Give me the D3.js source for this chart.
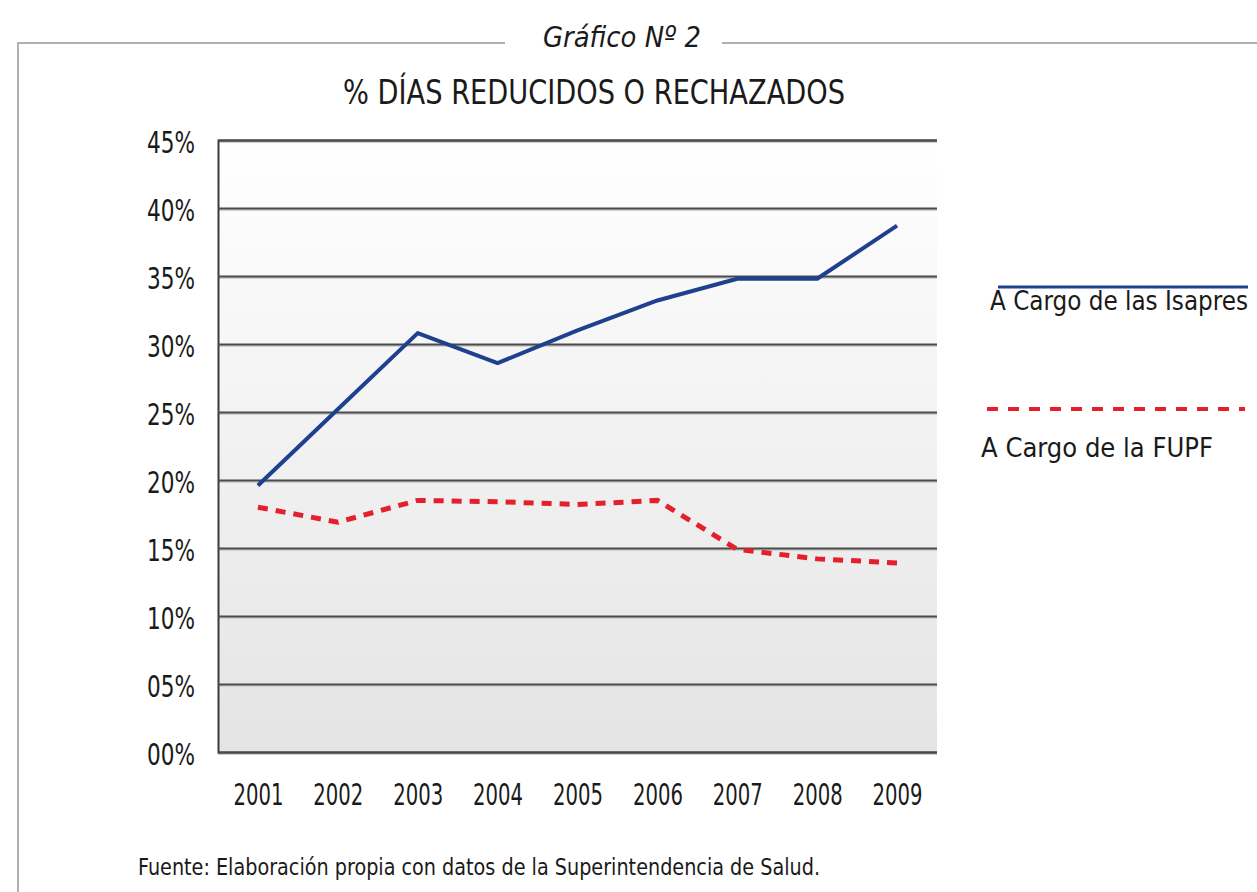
<!DOCTYPE html>
<html>
<head>
<meta charset="utf-8">
<script src="https://cdn.jsdelivr.net/npm/d3@7"></script>
<style>
  body { margin: 0; background: #fff; }
  text { font-family: "DejaVu Sans Condensed", "Liberation Sans Narrow", sans-serif; font-stretch: condensed; fill: #1a1a1a; }
</style>
</head>
<body>
<div id="chartHolder"></div>
<script>
// data
const years = ["2001", "2002", "2003", "2004", "2005", "2006", "2007", "2008", "2009"];
const isapres = [19.6, 25.2, 30.8, 28.6, 31.0, 33.2, 34.8, 34.8, 38.7];
const fupf = [18.0, 16.9, 18.5, 18.4, 18.2, 18.5, 14.9, 14.2, 13.9];
const yTicks = [0, 5, 10, 15, 20, 25, 30, 35, 40, 45];
const seriesNames = ["A Cargo de las Isapres", "A Cargo de la FUPF"];

const w = 1257, h = 892;
const plotL = 218, plotR = 937, plotT = 140, plotB = 752;

const svg = d3.select("#chartHolder").append("svg")
  .attr("width", w)
  .attr("height", h);

// frame round the chart
svg.append("path")
  .attr("d", "M18,892 L18,43 L505,43 M722,43 L1257,43")
  .attr("fill", "none")
  .attr("stroke", "#b0b0b0")
  .attr("stroke-width", 2);

svg.append("text")
  .attr("x", 543).attr("y", 47)
  .attr("textLength", 158).attr("lengthAdjust", "spacingAndGlyphs")
  .style("font-size", "29px").style("font-style", "italic")
  .text("Gráfico Nº 2");

svg.append("text")
  .attr("x", 343).attr("y", 104)
  .attr("textLength", 502).attr("lengthAdjust", "spacingAndGlyphs")
  .style("font-size", "34px")
  .text("% DÍAS REDUCIDOS O RECHAZADOS");

const x = d3.scalePoint()
  .domain(years)
  .range([plotL, plotR])
  .padding(0.5);

const y = d3.scaleLinear()
  .domain([0, 45])
  .range([plotB, plotT]);

// plot background gradient
const grad = svg.append("defs").append("linearGradient")
  .attr("id", "bg").attr("x1", 0).attr("y1", 0).attr("x2", 0).attr("y2", 1);
grad.append("stop").attr("offset", "0%").attr("stop-color", "#ffffff");
grad.append("stop").attr("offset", "100%").attr("stop-color", "#e4e4e4");

svg.append("rect")
  .attr("x", plotL).attr("y", plotT)
  .attr("width", plotR - plotL).attr("height", plotB - plotT)
  .attr("fill", "url(#bg)");

// gridlines with a soft shadow under each one
svg.append("g")
  .selectAll("line")
  .data(yTicks)
  .enter().append("line")
  .attr("x1", plotL).attr("x2", plotR)
  .attr("y1", (d) => y(d) + 2).attr("y2", (d) => y(d) + 2)
  .attr("stroke", "#d0d0d0")
  .attr("stroke-width", 2);

const yAxis = d3.axisLeft(y)
  .tickValues(yTicks)
  .tickSize(-(plotR - plotL))
  .tickPadding(23)
  .tickFormat((d) => d3.format("02d")(d) + "%");

const yAxisCall = svg.append("g")
  .attr("transform", "translate(" + plotL + ",0)")
  .call(yAxis);
yAxisCall.select(".domain").attr("stroke", "#3a3a3a").attr("stroke-width", 2);
yAxisCall.selectAll(".tick line").attr("stroke", "#4a4a4a").attr("stroke-width", 2);
yAxisCall.selectAll("text")
  .style("font-size", "31px")
  .attr("textLength", 48).attr("lengthAdjust", "spacingAndGlyphs")
  .attr("dy", "0.4em")
  .attr("fill", "#1a1a1a");

const xAxis = d3.axisBottom(x).tickSize(0).tickPadding(31);
const xAxisCall = svg.append("g")
  .attr("transform", "translate(0," + plotB + ")")
  .call(xAxis);
xAxisCall.select(".domain").remove();
xAxisCall.selectAll("text")
  .style("font-size", "31px")
  .attr("textLength", 50).attr("lengthAdjust", "spacingAndGlyphs")
  .attr("fill", "#1a1a1a");

// lines
const line = d3.line()
  .x((d, i) => x(years[i]))
  .y((d) => y(d));

svg.append("path")
  .datum(fupf)
  .attr("d", line)
  .attr("fill", "none")
  .attr("stroke", "#e3202c")
  .attr("stroke-width", 5)
  .attr("stroke-dasharray", "10,8");

svg.append("path")
  .datum(isapres)
  .attr("d", line)
  .attr("fill", "none")
  .attr("stroke", "#1f3f8f")
  .attr("stroke-width", 4)
  .attr("stroke-linejoin", "round");

// legend
svg.append("line")
  .attr("x1", 998).attr("x2", 1248).attr("y1", 287).attr("y2", 287)
  .attr("stroke", "#1f3f8f").attr("stroke-width", 3);
svg.append("text")
  .attr("x", 990).attr("y", 310)
  .attr("textLength", 258).attr("lengthAdjust", "spacingAndGlyphs")
  .style("font-size", "26px")
  .text(seriesNames[0]);

svg.append("line")
  .attr("x1", 987).attr("x2", 1245).attr("y1", 409).attr("y2", 409)
  .attr("stroke", "#e3202c").attr("stroke-width", 4)
  .attr("stroke-dasharray", "11,10");
svg.append("text")
  .attr("x", 981).attr("y", 457)
  .attr("textLength", 232).attr("lengthAdjust", "spacingAndGlyphs")
  .style("font-size", "26px")
  .text(seriesNames[1]);

// source note
svg.append("text")
  .attr("x", 138).attr("y", 875)
  .attr("textLength", 682).attr("lengthAdjust", "spacingAndGlyphs")
  .style("font-size", "23px")
  .text("Fuente: Elaboración propia con datos de la Superintendencia de Salud.");
</script>
</body>
</html>
